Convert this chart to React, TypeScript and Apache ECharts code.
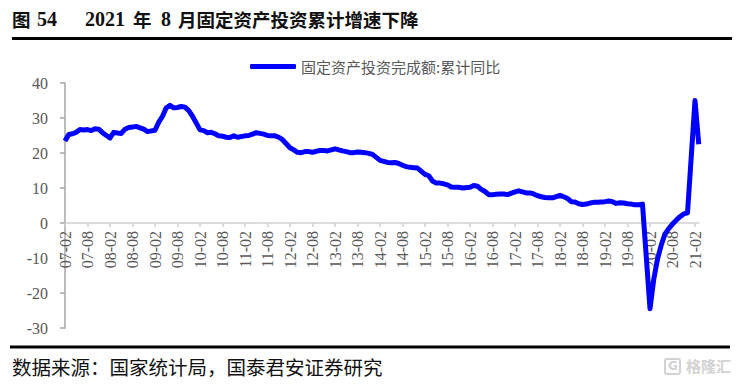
import React, { useEffect, useRef } from "react";
import * as echarts from "echarts";

// 固定资产投资完成额:累计同比 (%), Feb..Dec of each year (January not published)
const fai2007 = [23.4, 25.3, 25.5, 25.9, 26.7, 26.6, 26.7, 26.4, 26.9, 26.8, 25.8];
const fai2008 = [24.3, 25.9, 25.7, 25.6, 26.8, 27.3, 27.4, 27.6, 27.2, 26.8, 26.1];
const fai2009 = [26.5, 28.8, 30.5, 32.9, 33.6, 32.9, 33.0, 33.3, 33.1, 32.1, 30.5];
const fai2010 = [26.6, 26.4, 25.8, 25.9, 25.5, 24.9, 24.8, 24.5, 24.4, 24.9, 24.5];
const fai2011 = [24.9, 25.0, 25.4, 25.8, 25.6, 25.4, 25.0, 24.9, 24.9, 24.5, 23.8];
const fai2012 = [21.5, 20.9, 20.2, 20.1, 20.4, 20.4, 20.2, 20.5, 20.7, 20.7, 20.6];
const fai2013 = [21.2, 20.9, 20.6, 20.4, 20.1, 20.1, 20.3, 20.2, 20.1, 19.9, 19.6];
const fai2014 = [17.9, 17.6, 17.3, 17.2, 17.3, 17.0, 16.5, 16.1, 15.9, 15.8, 15.7];
const fai2015 = [13.9, 13.5, 12.0, 11.4, 11.4, 11.2, 10.9, 10.3, 10.2, 10.2, 10.0];
const fai2016 = [10.2, 10.7, 10.5, 9.6, 9.0, 8.1, 8.1, 8.2, 8.3, 8.3, 8.1];
const fai2017 = [8.9, 9.2, 8.9, 8.6, 8.6, 8.3, 7.8, 7.5, 7.3, 7.2, 7.2];
const fai2018 = [7.9, 7.5, 7.0, 6.1, 6.0, 5.5, 5.3, 5.4, 5.7, 5.9, 5.9];
const fai2019 = [6.1, 6.3, 6.1, 5.6, 5.8, 5.7, 5.5, 5.4, 5.2, 5.2, 5.4];
const fai2020 = [-24.5, -16.1, -10.3, -6.3, -3.1, -1.6, -0.3, 0.8, 1.8, 2.6, 2.9];
const fai2021 = [35.0, 22.5];

const years = [2007, 2008, 2009, 2010, 2011, 2012, 2013, 2014, 2015, 2016, 2017, 2018, 2019, 2020, 2021];
const yearly = [fai2007, fai2008, fai2009, fai2010, fai2011, fai2012, fai2013, fai2014, fai2015, fai2016, fai2017, fai2018, fai2019, fai2020, fai2021];

const yTicks = { min: -30, max: 40, interval: 10 };
const seriesName = "固定资产投资完成额:累计同比";
const titleParts = ["图", "54", "2021", "年", "8", "月固定资产投资累计增速下降"];
const sourceText = "数据来源：国家统计局，国泰君安证券研究";
const watermarkText = "格隆汇";

// Monthly category axis (January kept as a gap, as on a date axis)
const categories: string[] = [];
const values: (number | null)[] = [];
years.forEach((y, yi) => {
  const yy = String(y).slice(2);
  const arr = yearly[yi];
  for (let m = 1; m <= 12; m++) {
    if (m === 1) {
      if (y > 2007) {
        categories.push(`${yy}-01`);
        values.push(null);
      }
      continue;
    }
    const v = arr[m - 2];
    if (v === undefined) break;
    categories.push(`${yy}-${String(m).padStart(2, "0")}`);
    values.push(v);
  }
});

const SERIF = "'Liberation Serif', 'Times New Roman', 'Noto Sans CJK SC', serif";
const CJK = "'Noto Sans CJK SC', sans-serif";
const MIXED_BOLD = "'Liberation Serif', 'Noto Sans CJK SC', serif";

const GRID_TOP = 83;
const GRID_BOTTOM = 58;
const CHART_H = 386;

export default function App() {
  const ref = useRef<HTMLDivElement>(null);

  useEffect(() => {
    if (!ref.current) return;
    const chart = echarts.init(ref.current, undefined, { renderer: "svg" });
    const gridH = CHART_H - GRID_TOP - GRID_BOTTOM;
    const zeroFromBottom = (gridH * (0 - yTicks.min)) / (yTicks.max - yTicks.min);
    const titleY = 18.5;
    const titleX = [12, 37, 85, 133, 161, 178];
    const titleSize = [18.5, 20, 20, 18.5, 20, 18.5];
    chart.setOption({
      animation: false,
      backgroundColor: "#ffffff",
      grid: { left: 65, right: 41.25, top: GRID_TOP, bottom: GRID_BOTTOM, containLabel: false },
      legend: {
        data: [seriesName],
        left: 245,
        top: 54,
        icon: "roundRect",
        itemWidth: 46,
        itemHeight: 5,
        selectedMode: false,
        textStyle: { fontFamily: CJK, fontSize: 15, color: "#595959" },
      },
      xAxis: {
        type: "category",
        data: categories,
        boundaryGap: false,
        offset: -zeroFromBottom,
        axisLine: { onZero: false, lineStyle: { color: "#d0d0d0", width: 1.5 } },
        axisTick: {
          show: true,
          length: 4,
          interval: (i: number) => i % 6 === 0,
          lineStyle: { color: "#d0d0d0", width: 1.5 },
        },
        axisLabel: {
          interval: (i: number) => i % 6 === 0,
          rotate: 90,
          margin: 8,
          fontFamily: SERIF,
          fontSize: 16,
          color: "#595959",
        },
        splitLine: { show: false },
      },
      yAxis: {
        type: "value",
        min: yTicks.min,
        max: yTicks.max,
        interval: yTicks.interval,
        axisLine: { show: true, lineStyle: { color: "#a6a6a6", width: 1.5 } },
        axisTick: { show: true, length: 5, lineStyle: { color: "#a6a6a6", width: 1.5 } },
        axisLabel: { margin: 17, fontFamily: SERIF, fontSize: 16, color: "#595959" },
        splitLine: { show: false },
      },
      series: [
        {
          name: seriesName,
          type: "line",
          data: values,
          connectNulls: true,
          symbol: "none",
          lineStyle: { color: "#0000ff", width: 5, join: "round", cap: "butt" },
          itemStyle: { color: "#0000ff" },
        },
      ],
      graphic: [
        ...titleParts.map((t, i) => ({
          type: "text",
          x: titleX[i],
          y: titleY,
          style: {
            text: t,
            font: `bold ${titleSize[i]}px ${/^[0-9]+$/.test(t) ? MIXED_BOLD : CJK}`,
            fill: "#111111",
            verticalAlign: "middle",
          },
        })),
        {
          type: "rect",
          shape: { x: 12, y: 37, width: 720, height: 3 },
          style: { fill: "#000000" },
        },
        {
          type: "rect",
          shape: { x: 10, y: 345.5, width: 720, height: 3 },
          style: { fill: "#000000" },
        },
        {
          type: "text",
          x: 12,
          y: 366,
          style: { text: sourceText, font: `19.5px ${CJK}`, fill: "#111111", verticalAlign: "middle" },
        },
        {
          type: "group",
          x: 665,
          y: 359,
          children: [
            {
              type: "rect",
              shape: { x: 0, y: 0, width: 15, height: 15, r: 2 },
              style: { fill: "none", stroke: "#d2d2d2", lineWidth: 2 },
            },
            {
              type: "text",
              x: 3,
              y: 1,
              style: { text: "G", font: `bold 12px 'DejaVu Sans', sans-serif`, fill: "#d2d2d2" },
            },
            {
              type: "text",
              x: 21,
              y: -1,
              style: { text: watermarkText, font: `bold 15px ${CJK}`, fill: "#d2d2d2" },
            },
          ],
        },
      ],
    });
    return () => chart.dispose();
  }, []);

  return (
    <div
      ref={ref}
      style={{ position: "fixed", left: 0, top: 0, width: 740, height: 386, background: "#fff" }}
    />
  );
}
